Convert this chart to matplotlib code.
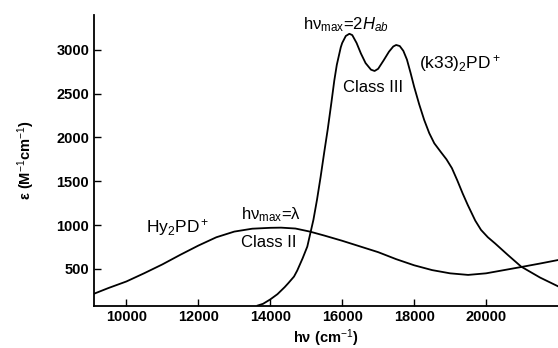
#!/usr/bin/env python3
import matplotlib
matplotlib.use("Agg")
import matplotlib.pyplot as plt

plt.rcParams['font.family'] = ['Liberation Sans', 'DejaVu Sans']
plt.rcParams['mathtext.fontset'] = 'custom'
plt.rcParams['mathtext.rm'] = 'Liberation Sans'
plt.rcParams['mathtext.it'] = 'Liberation Sans:italic'
plt.rcParams['mathtext.bf'] = 'Liberation Sans:bold'

# Class II band, Hy2PD+
hy_x = [9100, 9500, 10000, 10500, 11000, 11500, 12000, 12500, 13000, 13500,
        14000, 14300, 14700, 15100, 15500, 16000, 16500, 17000, 17500, 18000,
        18500, 19000, 19500, 20000, 20500, 21000, 21500, 22000]
hy_y = [215, 280, 355, 450, 550, 660, 765, 860, 925, 958,
        968, 970, 960, 925, 880, 820, 755, 690, 610, 540,
        485, 448, 430, 448, 485, 522, 560, 600]

# Class III band, (k33)2PD+
k33_x = [13650, 13800, 14000, 14200, 14400, 14500, 14660, 14750, 14900, 15030,
         15100, 15200, 15300, 15400, 15500, 15600, 15700, 15780, 15850, 15960,
         16000, 16100, 16200, 16280, 16400, 16520, 16650, 16800, 16900, 17000,
         17150, 17300, 17420, 17500, 17600, 17700, 17800, 17900, 18000, 18140,
         18280, 18420, 18560, 18750, 18900, 19050, 19200, 19350, 19490, 19700,
         19860, 20050, 20250, 20600, 20975, 21500, 22000]
k33_y = [80, 100, 150, 210, 290, 335, 411, 480, 620, 754,
         880, 1060, 1290, 1550, 1830, 2100, 2400, 2650, 2830, 3030,
         3080, 3160, 3185, 3170, 3080, 2960, 2850, 2775, 2760, 2785,
         2880, 2980, 3040, 3057, 3045, 2990, 2890, 2740, 2580, 2380,
         2200, 2050, 1934, 1830, 1750, 1650, 1510, 1360, 1230, 1050,
         944, 860, 790, 660, 525, 400, 300]

xticks = [10000, 12000, 14000, 16000, 18000, 20000]
yticks = [500, 1000, 1500, 2000, 2500, 3000]

fig = plt.figure(figsize=(5.58, 3.48), dpi=100)
ax = fig.add_axes([0.1685, 0.122, 0.8315, 0.835])

ax.plot(hy_x, hy_y, color='black', lw=1.3)
ax.plot(k33_x, k33_y, color='black', lw=1.3)

ax.set_xlim(9100, 22000)
ax.set_ylim(80, 3400)
ax.set_xticks(xticks)
ax.set_yticks(yticks)
ax.tick_params(direction='in', length=5, width=1, labelsize=10.5)
for lab in ax.get_xticklabels() + ax.get_yticklabels():
    lab.set_fontweight('bold')
ax.spines['top'].set_visible(False)
ax.spines['right'].set_visible(False)
ax.spines['left'].set_linewidth(1.3)
ax.spines['bottom'].set_linewidth(1.3)

ax.set_xlabel('hν (cm$^{-1}$)', fontsize=10.5, fontweight='bold', labelpad=2)
ax.set_ylabel('ε (M$^{-1}$cm$^{-1}$)', fontsize=10.5, fontweight='bold', labelpad=14)

ax.text(16100, 3285, 'hν$_{\\mathrm{max}}$=2$H_{ab}$', fontsize=12, ha='center', va='center')
ax.text(19275, 2850, '(k33)$_2$PD$^+$', fontsize=12.5, ha='center', va='center')
ax.text(16850, 2566, 'Class III', fontsize=12, ha='center', va='center')
ax.text(11420, 967, 'Hy$_2$PD$^+$', fontsize=12.5, ha='center', va='center')
ax.text(14011, 1116, 'hν$_{\\mathrm{max}}$=λ', fontsize=12, ha='center', va='center')
ax.text(13955, 796, 'Class II', fontsize=12, ha='center', va='center')

plt.savefig('out.png', dpi=100)
